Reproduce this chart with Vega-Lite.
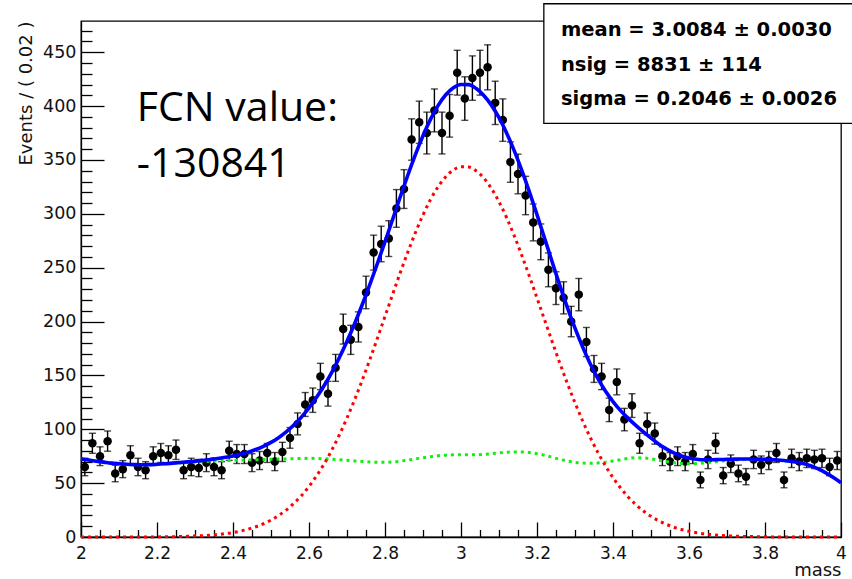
{
  "$schema": "https://vega.github.io/schema/vega-lite/v6.json",
  "width": 760,
  "height": 516,
  "autosize": "none",
  "padding": {"left": 81, "top": 21, "right": 11, "bottom": 42},
  "background": "white",
  "config": {
    "view": {"stroke": "black", "strokeWidth": 1.3},
    "font": "DejaVu Sans",
    "axis": {"labelFont": "DejaVu Sans", "titleFont": "DejaVu Sans", "grid": false}
  },
  "datasets": {
    "pts": [
      {"m":2.01,"n":65,"e":8.1},{"m":2.03,"n":87,"e":9.3},{"m":2.05,"n":75,"e":8.7},{"m":2.07,"n":89,"e":9.4},{"m":2.09,"n":59,"e":7.7},
      {"m":2.11,"n":63,"e":7.9},{"m":2.13,"n":76,"e":8.7},{"m":2.15,"n":65,"e":8.1},{"m":2.17,"n":62,"e":7.9},{"m":2.19,"n":75,"e":8.7},
      {"m":2.21,"n":78,"e":8.8},{"m":2.23,"n":76,"e":8.7},{"m":2.25,"n":81,"e":9.0},{"m":2.27,"n":62,"e":7.9},{"m":2.29,"n":65,"e":8.1},
      {"m":2.31,"n":64,"e":8.0},{"m":2.33,"n":69,"e":8.3},{"m":2.35,"n":65,"e":8.1},{"m":2.37,"n":62,"e":7.9},{"m":2.39,"n":80,"e":8.9},
      {"m":2.41,"n":77,"e":8.8},{"m":2.43,"n":77,"e":8.8},{"m":2.45,"n":69,"e":8.3},{"m":2.47,"n":71,"e":8.4},{"m":2.49,"n":78,"e":8.8},
      {"m":2.51,"n":70,"e":8.4},{"m":2.53,"n":79,"e":8.9},{"m":2.55,"n":92,"e":9.6},{"m":2.57,"n":105,"e":10.2},{"m":2.59,"n":123,"e":11.1},
      {"m":2.61,"n":127,"e":11.3},{"m":2.63,"n":149,"e":12.2},{"m":2.65,"n":133,"e":11.5},{"m":2.67,"n":157,"e":12.5},{"m":2.69,"n":193,"e":13.9},
      {"m":2.71,"n":183,"e":13.5},{"m":2.73,"n":195,"e":14.0},{"m":2.75,"n":227,"e":15.1},{"m":2.77,"n":264,"e":16.2},{"m":2.79,"n":272,"e":16.5},
      {"m":2.81,"n":277,"e":16.6},{"m":2.83,"n":305,"e":17.5},{"m":2.85,"n":323,"e":18.0},{"m":2.87,"n":369,"e":19.2},{"m":2.89,"n":385,"e":19.6},
      {"m":2.91,"n":375,"e":19.4},{"m":2.93,"n":396,"e":19.9},{"m":2.95,"n":375,"e":19.4},{"m":2.97,"n":391,"e":19.8},{"m":2.99,"n":431,"e":20.8},
      {"m":3.01,"n":407,"e":20.2},{"m":3.03,"n":426,"e":20.6},{"m":3.05,"n":431,"e":20.8},{"m":3.07,"n":436,"e":20.9},{"m":3.09,"n":403,"e":20.1},
      {"m":3.11,"n":387,"e":19.7},{"m":3.13,"n":348,"e":18.7},{"m":3.15,"n":337,"e":18.4},{"m":3.17,"n":317,"e":17.8},{"m":3.19,"n":292,"e":17.1},
      {"m":3.21,"n":274,"e":16.6},{"m":3.23,"n":248,"e":15.7},{"m":3.25,"n":231,"e":15.2},{"m":3.27,"n":222,"e":14.9},{"m":3.29,"n":200,"e":14.1},
      {"m":3.31,"n":225,"e":15.0},{"m":3.33,"n":181,"e":13.5},{"m":3.35,"n":156,"e":12.5},{"m":3.37,"n":149,"e":12.2},{"m":3.39,"n":118,"e":10.9},
      {"m":3.41,"n":144,"e":12.0},{"m":3.43,"n":109,"e":10.4},{"m":3.45,"n":122,"e":11.0},{"m":3.47,"n":87,"e":9.3},{"m":3.49,"n":105,"e":10.2},
      {"m":3.51,"n":96,"e":9.8},{"m":3.53,"n":75,"e":8.7},{"m":3.55,"n":70,"e":8.4},{"m":3.57,"n":75,"e":8.7},{"m":3.59,"n":70,"e":8.4},
      {"m":3.61,"n":77,"e":8.8},{"m":3.63,"n":53,"e":7.3},{"m":3.65,"n":72,"e":8.5},{"m":3.67,"n":87,"e":9.3},{"m":3.69,"n":57,"e":7.5},
      {"m":3.71,"n":68,"e":8.2},{"m":3.73,"n":59,"e":7.7},{"m":3.75,"n":56,"e":7.5},{"m":3.77,"n":72,"e":8.5},{"m":3.79,"n":67,"e":8.2},
      {"m":3.81,"n":71,"e":8.4},{"m":3.83,"n":78,"e":8.8},{"m":3.85,"n":53,"e":7.3},{"m":3.87,"n":73,"e":8.5},{"m":3.89,"n":70,"e":8.4},
      {"m":3.91,"n":73,"e":8.5},{"m":3.93,"n":72,"e":8.5},{"m":3.95,"n":73,"e":8.5},{"m":3.97,"n":65,"e":8.1},{"m":3.99,"n":71,"e":8.4}
    ],
    "crv": [
      {"m":2.00,"sig":0,"bkg":72.4,"tot":72.4},{"m":2.02,"sig":0,"bkg":71.4,"tot":71.4},{"m":2.04,"sig":0,"bkg":70.4,"tot":70.4},
      {"m":2.06,"sig":0,"bkg":69.5,"tot":69.5},{"m":2.08,"sig":0,"bkg":68.6,"tot":68.6},{"m":2.10,"sig":0,"bkg":68.0,"tot":68.0},
      {"m":2.12,"sig":0,"bkg":67.5,"tot":67.5},{"m":2.14,"sig":0.1,"bkg":67.1,"tot":67.2},{"m":2.16,"sig":0.1,"bkg":67.0,"tot":67.1},
      {"m":2.18,"sig":0.1,"bkg":67.1,"tot":67.2},{"m":2.20,"sig":0.1,"bkg":67.4,"tot":67.5},{"m":2.22,"sig":0.2,"bkg":67.8,"tot":68.0},
      {"m":2.24,"sig":0.3,"bkg":68.3,"tot":68.6},{"m":2.26,"sig":0.4,"bkg":68.7,"tot":69.1},{"m":2.28,"sig":0.6,"bkg":69.1,"tot":69.7},
      {"m":2.30,"sig":0.9,"bkg":69.5,"tot":70.4},{"m":2.32,"sig":1.2,"bkg":69.9,"tot":71.1},{"m":2.34,"sig":1.7,"bkg":70.3,"tot":72.0},
      {"m":2.36,"sig":2.3,"bkg":70.6,"tot":72.9},{"m":2.38,"sig":3.1,"bkg":70.9,"tot":74.0},{"m":2.40,"sig":4.1,"bkg":71.1,"tot":75.2},
      {"m":2.42,"sig":5.5,"bkg":71.3,"tot":76.8},{"m":2.44,"sig":7.3,"bkg":71.5,"tot":78.8},{"m":2.46,"sig":9.5,"bkg":71.7,"tot":81.2},
      {"m":2.48,"sig":12.3,"bkg":71.9,"tot":84.2},{"m":2.50,"sig":15.7,"bkg":72.1,"tot":87.8},{"m":2.52,"sig":19.9,"bkg":72.3,"tot":92.2},
      {"m":2.54,"sig":25.0,"bkg":72.5,"tot":97.5},{"m":2.56,"sig":31.2,"bkg":72.7,"tot":103.9},{"m":2.58,"sig":38.4,"bkg":72.9,"tot":111.3},
      {"m":2.60,"sig":46.9,"bkg":73.0,"tot":119.9},{"m":2.62,"sig":56.8,"bkg":72.9,"tot":129.7},{"m":2.64,"sig":68.0,"bkg":72.6,"tot":140.6},
      {"m":2.66,"sig":80.7,"bkg":72.2,"tot":152.9},{"m":2.68,"sig":94.9,"bkg":71.7,"tot":166.6},{"m":2.70,"sig":110.5,"bkg":71.2,"tot":181.7},
      {"m":2.72,"sig":127.4,"bkg":70.6,"tot":198.0},{"m":2.74,"sig":145.5,"bkg":70.1,"tot":215.6},{"m":2.76,"sig":164.6,"bkg":69.7,"tot":234.3},
      {"m":2.78,"sig":184.5,"bkg":69.4,"tot":253.9},{"m":2.80,"sig":204.8,"bkg":69.3,"tot":274.1},{"m":2.82,"sig":225.1,"bkg":69.6,"tot":294.7},
      {"m":2.84,"sig":245.2,"bkg":70.4,"tot":315.6},{"m":2.86,"sig":264.4,"bkg":71.4,"tot":335.8},{"m":2.88,"sig":282.5,"bkg":72.5,"tot":355.0},
      {"m":2.90,"sig":298.9,"bkg":73.5,"tot":372.4},{"m":2.92,"sig":313.4,"bkg":74.5,"tot":387.9},{"m":2.94,"sig":325.3,"bkg":75.4,"tot":400.7},
      {"m":2.96,"sig":334.5,"bkg":76.0,"tot":410.5},{"m":2.98,"sig":340.7,"bkg":76.3,"tot":417.0},{"m":3.00,"sig":343.7,"bkg":76.4,"tot":420.1},
      {"m":3.02,"sig":343.5,"bkg":76.4,"tot":419.9},{"m":3.04,"sig":339.9,"bkg":76.4,"tot":416.3},{"m":3.06,"sig":333.2,"bkg":76.7,"tot":409.9},
      {"m":3.08,"sig":323.6,"bkg":77.3,"tot":400.9},{"m":3.10,"sig":311.2,"bkg":78.0,"tot":389.2},{"m":3.12,"sig":296.5,"bkg":78.6,"tot":375.1},
      {"m":3.14,"sig":279.7,"bkg":79.0,"tot":358.7},{"m":3.16,"sig":261.4,"bkg":79.0,"tot":340.4},{"m":3.18,"sig":242.0,"bkg":78.4,"tot":320.4},
      {"m":3.20,"sig":221.9,"bkg":77.3,"tot":299.2},{"m":3.22,"sig":201.5,"bkg":75.8,"tot":277.3},{"m":3.24,"sig":181.3,"bkg":74.0,"tot":255.3},
      {"m":3.26,"sig":161.5,"bkg":72.1,"tot":233.6},{"m":3.28,"sig":142.5,"bkg":70.5,"tot":213.0},{"m":3.30,"sig":124.6,"bkg":69.3,"tot":193.9},
      {"m":3.32,"sig":107.9,"bkg":68.6,"tot":176.5},{"m":3.34,"sig":92.5,"bkg":68.4,"tot":160.9},{"m":3.36,"sig":78.6,"bkg":68.7,"tot":147.3},
      {"m":3.38,"sig":66.1,"bkg":69.5,"tot":135.6},{"m":3.40,"sig":55.1,"bkg":70.6,"tot":125.7},{"m":3.42,"sig":45.5,"bkg":71.8,"tot":117.3},
      {"m":3.44,"sig":37.2,"bkg":72.9,"tot":110.1},{"m":3.46,"sig":30.1,"bkg":73.5,"tot":103.6},{"m":3.48,"sig":24.1,"bkg":73.4,"tot":97.5},
      {"m":3.50,"sig":19.2,"bkg":72.6,"tot":91.8},{"m":3.52,"sig":15.1,"bkg":71.3,"tot":86.4},{"m":3.54,"sig":11.8,"bkg":70.0,"tot":81.8},
      {"m":3.56,"sig":9.1,"bkg":69.0,"tot":78.1},{"m":3.58,"sig":6.9,"bkg":68.3,"tot":75.2},{"m":3.60,"sig":5.3,"bkg":68.0,"tot":73.3},
      {"m":3.62,"sig":4.0,"bkg":68.2,"tot":72.2},{"m":3.64,"sig":2.9,"bkg":68.8,"tot":71.7},{"m":3.66,"sig":2.2,"bkg":69.5,"tot":71.7},
      {"m":3.68,"sig":1.6,"bkg":70.3,"tot":71.9},{"m":3.70,"sig":1.1,"bkg":71.0,"tot":72.1},{"m":3.72,"sig":0.8,"bkg":71.5,"tot":72.3},
      {"m":3.74,"sig":0.6,"bkg":71.8,"tot":72.4},{"m":3.76,"sig":0.4,"bkg":72.0,"tot":72.4},{"m":3.78,"sig":0.3,"bkg":72.0,"tot":72.3},
      {"m":3.80,"sig":0.2,"bkg":71.9,"tot":72.1},{"m":3.82,"sig":0.1,"bkg":71.6,"tot":71.7},{"m":3.84,"sig":0.1,"bkg":71.2,"tot":71.3},
      {"m":3.86,"sig":0,"bkg":70.6,"tot":70.6},{"m":3.88,"sig":0,"bkg":69.6,"tot":69.6},{"m":3.90,"sig":0,"bkg":68.2,"tot":68.2},
      {"m":3.92,"sig":0,"bkg":66.2,"tot":66.2},{"m":3.94,"sig":0,"bkg":63.2,"tot":63.2},{"m":3.96,"sig":0,"bkg":59.5,"tot":59.5},
      {"m":3.98,"sig":0,"bkg":55.2,"tot":55.2},{"m":4.00,"sig":0,"bkg":50.4,"tot":50.4}
    ]
  },
  "layer": [
    {
      "data": {"name": "pts"},
      "mark": {"type": "errorbar", "color": "black", "ticks": {"size": 7, "thickness": 1.4, "color": "black"}, "rule": {"strokeWidth": 1.4, "color": "black"}},
      "encoding": {
        "x": {"field": "m", "type": "quantitative", "scale": {"domain": [2, 4], "nice": false, "zero": false}, "axis": null},
        "y": {"field": "n", "type": "quantitative", "scale": {"domain": [0, 479], "nice": false}, "axis": null},
        "yError": {"field": "e"}
      }
    },
    {
      "data": {"name": "pts"},
      "mark": {"type": "point", "filled": true, "color": "black", "size": 72, "opacity": 1},
      "encoding": {
        "x": {"field": "m", "type": "quantitative", "scale": {"domain": [2, 4], "nice": false, "zero": false}, "axis": null},
        "y": {"field": "n", "type": "quantitative", "scale": {"domain": [0, 479], "nice": false}, "axis": null}
      }
    },
    {
      "data": {"name": "crv"},
      "mark": {"type": "line", "color": "#11ee11", "strokeWidth": 3, "strokeDash": [3, 4], "interpolate": "monotone"},
      "encoding": {
        "x": {"field": "m", "type": "quantitative", "scale": {"domain": [2, 4], "nice": false, "zero": false},
          "axis": {"orient": "bottom", "values": [2, 2.2, 2.4, 2.6, 2.8, 3, 3.2, 3.4, 3.6, 3.8, 4], "format": "~g", "labelFlush": false, "labelOverlap": false,
            "tickSize": -15, "tickWidth": 1.3, "tickColor": "black", "domainColor": "black", "domainWidth": 1.3,
            "labelFontSize": 17, "labelColor": "#111", "labelPadding": 23,
            "title": "mass", "titleFontSize": 18, "titleFontWeight": "normal", "titleColor": "#111",
            "titleX": 760, "titleY": 38, "titleAlign": "right", "titleBaseline": "alphabetic", "titleAnchor": "end"}},
        "y": {"field": "bkg", "type": "quantitative", "scale": {"domain": [0, 479], "nice": false},
          "axis": {"orient": "left", "values": [0, 50, 100, 150, 200, 250, 300, 350, 400, 450], "labelFlush": false, "labelOverlap": false,
            "tickSize": -23, "tickWidth": 1.3, "tickColor": "black", "domainColor": "black", "domainWidth": 1.3,
            "labelFontSize": 17.5, "labelColor": "#111", "labelPadding": 28,
            "title": "Events / ( 0.02 )", "titleFontSize": 18, "titleFontWeight": "normal", "titleColor": "#111",
            "titleX": -55, "titleY": 0, "titleAngle": -90, "titleAlign": "right", "titleBaseline": "middle", "titleAnchor": "end"}}
      }
    },
    {
      "data": {"name": "crv"},
      "mark": {"type": "line", "color": "#ff0000", "strokeWidth": 3, "strokeDash": [3, 4], "interpolate": "monotone"},
      "encoding": {
        "x": {"field": "m", "type": "quantitative", "scale": {"domain": [2, 4], "nice": false, "zero": false},
          "axis": {"orient": "bottom", "values": [2.05, 2.1, 2.15, 2.25, 2.3, 2.35, 2.45, 2.5, 2.55, 2.65, 2.7, 2.75, 2.85, 2.9, 2.95, 3.05, 3.1, 3.15, 3.25, 3.3, 3.35, 3.45, 3.5, 3.55, 3.65, 3.7, 3.75, 3.85, 3.9, 3.95],
            "labels": false, "domain": false, "tickSize": -7.5, "tickWidth": 1.3, "tickColor": "black", "title": null}},
        "y": {"field": "sig", "type": "quantitative", "scale": {"domain": [0, 479], "nice": false},
          "axis": {"orient": "left", "values": [10, 20, 30, 40, 60, 70, 80, 90, 110, 120, 130, 140, 160, 170, 180, 190, 210, 220, 230, 240, 260, 270, 280, 290, 310, 320, 330, 340, 360, 370, 380, 390, 410, 420, 430, 440, 460, 470],
            "labels": false, "domain": false, "tickSize": -11, "tickWidth": 1.3, "tickColor": "black", "title": null}}
      }
    },
    {
      "data": {"name": "crv"},
      "mark": {"type": "line", "color": "#0000ff", "strokeWidth": 3.6, "interpolate": "monotone"},
      "encoding": {
        "x": {"field": "m", "type": "quantitative", "scale": {"domain": [2, 4], "nice": false, "zero": false}, "axis": null},
        "y": {"field": "tot", "type": "quantitative", "scale": {"domain": [0, 479], "nice": false}, "axis": null}
      }
    },
    {
      "data": {"values": [{}]},
      "mark": {"type": "text", "font": "Open Sans", "fontSize": 41, "color": "black", "align": "left", "baseline": "alphabetic", "lineHeight": 56},
      "encoding": {
        "x": {"datum": 2.147, "type": "quantitative", "scale": {"domain": [2, 4], "nice": false, "zero": false}, "axis": null},
        "y": {"datum": 386, "type": "quantitative", "scale": {"domain": [0, 479], "nice": false}, "axis": null},
        "text": {"value": ["FCN value:", "-130841"]}
      }
    },
    {
      "data": {"values": [{}]},
      "mark": {"type": "rect", "fill": "white", "stroke": "black", "strokeWidth": 1.3},
      "encoding": {
        "x": {"datum": 3.218, "type": "quantitative", "scale": {"domain": [2, 4], "nice": false, "zero": false}, "axis": null},
        "x2": {"datum": 4.06},
        "y": {"datum": 384, "type": "quantitative", "scale": {"domain": [0, 479], "nice": false}, "axis": null},
        "y2": {"datum": 495}
      }
    },
    {
      "data": {"values": [{}]},
      "mark": {"type": "text", "font": "DejaVu Sans", "fontWeight": "bold", "fontSize": 19.5, "color": "black", "align": "left", "baseline": "alphabetic", "lineHeight": 34.6},
      "encoding": {
        "x": {"datum": 3.263, "type": "quantitative", "scale": {"domain": [2, 4], "nice": false, "zero": false}, "axis": null},
        "y": {"datum": 464.8, "type": "quantitative", "scale": {"domain": [0, 479], "nice": false}, "axis": null},
        "text": {"value": ["mean =  3.0084 ± 0.0030", "nsig =  8831 ± 114", "sigma =  0.2046 ± 0.0026"]}
      }
    }
  ],
  "resolve": {"axis": {"x": "independent", "y": "independent"}}
}
